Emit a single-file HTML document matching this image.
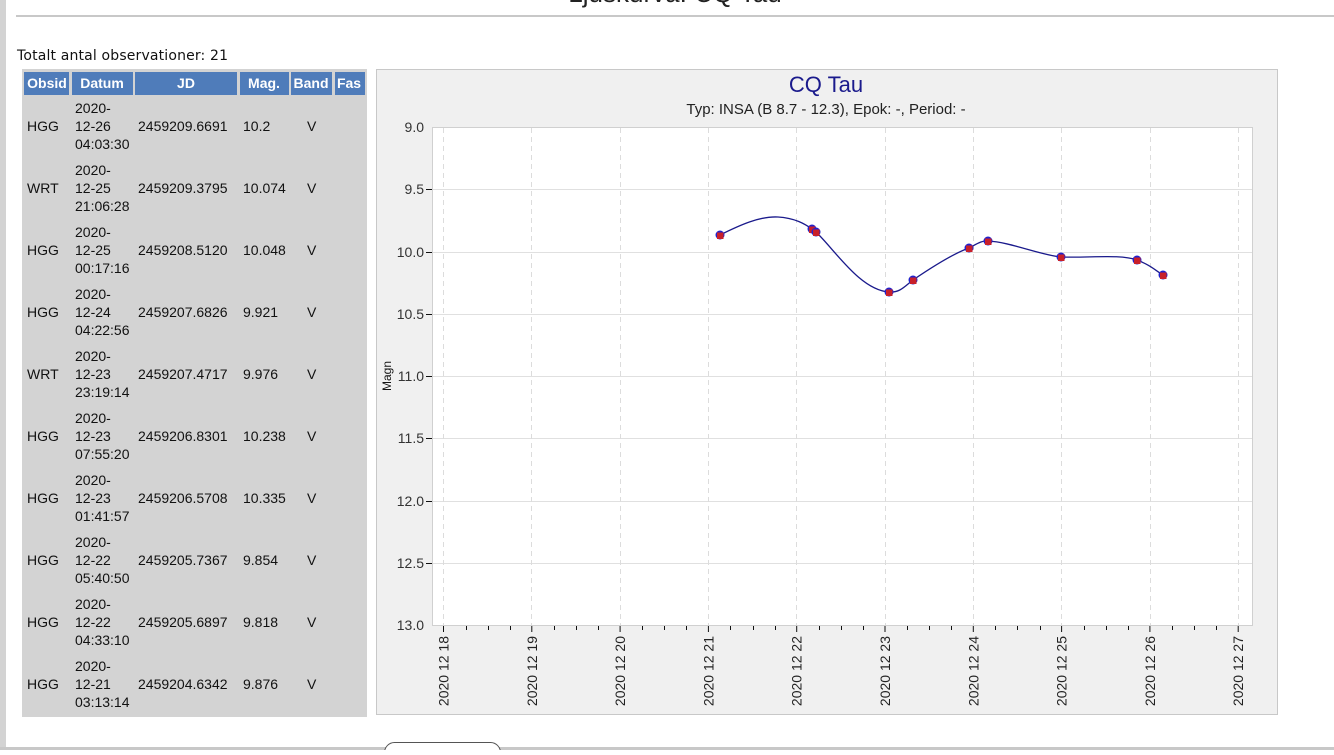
<!DOCTYPE html>
<html><head><meta charset="utf-8"><style>
body{margin:0;background:#fff;width:1334px;height:750px;overflow:hidden;font-family:"Liberation Sans",sans-serif}
</style></head><body>
<svg width="1334" height="750" xmlns="http://www.w3.org/2000/svg" font-family="Liberation Sans, sans-serif">
<rect x="0" y="0" width="6" height="750" fill="#d3d3d3"/>
<text x="675" y="2" font-size="26" text-anchor="middle" fill="#222">Ljuskurva: CQ Tau</text>
<rect x="16" y="15" width="1318" height="2" fill="#c8c8c8"/>
<text x="17" y="60" font-size="14" fill="#111" font-family="DejaVu Sans, sans-serif" textLength="211">Totalt antal observationer: 21</text>
<rect x="22" y="69" width="345" height="648" fill="#d3d3d3"/>
<g fill="#4f7cba">
<rect x="24" y="72" width="45" height="23"/><rect x="72" y="72" width="61" height="23"/><rect x="135" y="72" width="102" height="23"/><rect x="240" y="72" width="49" height="23"/><rect x="291" y="72" width="41" height="23"/><rect x="335" y="72" width="30" height="23"/>
</g>
<g fill="#fff" font-size="14" font-weight="bold" text-anchor="middle">
<text x="47" y="88">Obsid</text><text x="102" y="88">Datum</text><text x="186" y="88">JD</text><text x="264" y="88">Mag.</text><text x="311" y="88">Band</text><text x="349" y="88">Fas</text>
</g>
<g font-size="14" fill="#111">
<g transform="translate(0,0)"><text x="27" y="131">HGG</text><text x="75" y="113">2020-</text><text x="75" y="131">12-26</text><text x="75" y="149">04:03:30</text><text x="138" y="131">2459209.6691</text><text x="243" y="131">10.2</text><text x="307" y="131">V</text></g>
<g transform="translate(0,62)"><text x="27" y="131">WRT</text><text x="75" y="113">2020-</text><text x="75" y="131">12-25</text><text x="75" y="149">21:06:28</text><text x="138" y="131">2459209.3795</text><text x="243" y="131">10.074</text><text x="307" y="131">V</text></g>
<g transform="translate(0,124)"><text x="27" y="131">HGG</text><text x="75" y="113">2020-</text><text x="75" y="131">12-25</text><text x="75" y="149">00:17:16</text><text x="138" y="131">2459208.5120</text><text x="243" y="131">10.048</text><text x="307" y="131">V</text></g>
<g transform="translate(0,186)"><text x="27" y="131">HGG</text><text x="75" y="113">2020-</text><text x="75" y="131">12-24</text><text x="75" y="149">04:22:56</text><text x="138" y="131">2459207.6826</text><text x="243" y="131">9.921</text><text x="307" y="131">V</text></g>
<g transform="translate(0,248)"><text x="27" y="131">WRT</text><text x="75" y="113">2020-</text><text x="75" y="131">12-23</text><text x="75" y="149">23:19:14</text><text x="138" y="131">2459207.4717</text><text x="243" y="131">9.976</text><text x="307" y="131">V</text></g>
<g transform="translate(0,310)"><text x="27" y="131">HGG</text><text x="75" y="113">2020-</text><text x="75" y="131">12-23</text><text x="75" y="149">07:55:20</text><text x="138" y="131">2459206.8301</text><text x="243" y="131">10.238</text><text x="307" y="131">V</text></g>
<g transform="translate(0,372)"><text x="27" y="131">HGG</text><text x="75" y="113">2020-</text><text x="75" y="131">12-23</text><text x="75" y="149">01:41:57</text><text x="138" y="131">2459206.5708</text><text x="243" y="131">10.335</text><text x="307" y="131">V</text></g>
<g transform="translate(0,434)"><text x="27" y="131">HGG</text><text x="75" y="113">2020-</text><text x="75" y="131">12-22</text><text x="75" y="149">05:40:50</text><text x="138" y="131">2459205.7367</text><text x="243" y="131">9.854</text><text x="307" y="131">V</text></g>
<g transform="translate(0,496)"><text x="27" y="131">HGG</text><text x="75" y="113">2020-</text><text x="75" y="131">12-22</text><text x="75" y="149">04:33:10</text><text x="138" y="131">2459205.6897</text><text x="243" y="131">9.818</text><text x="307" y="131">V</text></g>
<g transform="translate(0,558)"><text x="27" y="131">HGG</text><text x="75" y="113">2020-</text><text x="75" y="131">12-21</text><text x="75" y="149">03:13:14</text><text x="138" y="131">2459204.6342</text><text x="243" y="131">9.876</text><text x="307" y="131">V</text></g>
</g>
<!-- chart -->
<rect x="376.5" y="69.5" width="901" height="645" fill="#f0f0f0" stroke="#c8c8c8"/>
<text x="826" y="92" font-size="22" fill="#1a1a8c" text-anchor="middle">CQ Tau</text>
<text x="826" y="114" font-size="15" fill="#222" text-anchor="middle">Typ: INSA (B 8.7 - 12.3), Epok: -, Period: -</text>
<rect x="432.5" y="127.5" width="820" height="498" fill="#fff" stroke="#d0d0d0"/>
<g stroke="#e0e0e0">
<line x1="433" x2="1252" y1="189.5" y2="189.5"/><line x1="433" x2="1252" y1="252.5" y2="252.5"/><line x1="433" x2="1252" y1="314.5" y2="314.5"/><line x1="433" x2="1252" y1="376.5" y2="376.5"/><line x1="433" x2="1252" y1="438.5" y2="438.5"/><line x1="433" x2="1252" y1="501.5" y2="501.5"/><line x1="433" x2="1252" y1="563.5" y2="563.5"/>
</g>
<g stroke="#dcdcdc" stroke-dasharray="5,4">
<line x1="443.5" x2="443.5" y1="128" y2="625"/><line x1="531.5" x2="531.5" y1="128" y2="625"/><line x1="620.5" x2="620.5" y1="128" y2="625"/><line x1="708.5" x2="708.5" y1="128" y2="625"/><line x1="796.5" x2="796.5" y1="128" y2="625"/><line x1="885.5" x2="885.5" y1="128" y2="625"/><line x1="973.5" x2="973.5" y1="128" y2="625"/><line x1="1061.5" x2="1061.5" y1="128" y2="625"/><line x1="1150.5" x2="1150.5" y1="128" y2="625"/><line x1="1238.5" x2="1238.5" y1="128" y2="625"/>
</g>
<g stroke="#111">
<line x1="426" x2="432" y1="189.5" y2="189.5"/><line x1="426" x2="432" y1="252.5" y2="252.5"/><line x1="426" x2="432" y1="314.5" y2="314.5"/><line x1="426" x2="432" y1="376.5" y2="376.5"/><line x1="426" x2="432" y1="438.5" y2="438.5"/><line x1="426" x2="432" y1="501.5" y2="501.5"/><line x1="426" x2="432" y1="563.5" y2="563.5"/>
</g>
<g font-size="14" fill="#333" text-anchor="end">
<text x="424" y="132">9.0</text><text x="424" y="194">9.5</text><text x="424" y="257">10.0</text><text x="424" y="319">10.5</text><text x="424" y="381">11.0</text><text x="424" y="443">11.5</text><text x="424" y="506">12.0</text><text x="424" y="568">12.5</text><text x="424" y="630">13.0</text>
</g>
<text transform="translate(391,376) rotate(-90)" font-size="12" fill="#111" text-anchor="middle">Magn</text>
<g id="ticks" stroke="#111"></g>
<g font-size="14" fill="#222" text-anchor="end" id="xl"></g>
<path d="M720,235 C740,225 760,216 778,217 C795,218 805,224 812,229 L816,232 C835,250 860,290 889,292 C900,293 905,286 913,280 C935,265 955,253 969,248 C975,245 982,240 988,241 C1010,242 1040,255 1061,257 C1090,258 1120,254 1137,260 C1150,265 1155,270 1163,275" fill="none" stroke="#1a1a8c" stroke-width="1.3"/>
<g id="pts"></g>
<rect x="0" y="747" width="1334" height="3" fill="#c8c8c8"/>
<rect x="384.5" y="742.5" width="116" height="20" rx="10" fill="#fff" stroke="#555"/>
</svg>
<script>
var ns="http://www.w3.org/2000/svg";
var t=document.getElementById("ticks"),xl=document.getElementById("xl"),p=document.getElementById("pts");
for(var d=0;d<10;d++){var x=443.5+88.3*d;
 var l=document.createElementNS(ns,"line");l.setAttribute("x1",x);l.setAttribute("x2",x);l.setAttribute("y1",626);l.setAttribute("y2",632);t.appendChild(l);
 var tx=document.createElementNS(ns,"text");tx.setAttribute("transform","translate("+(x+5)+",636) rotate(-90)");tx.textContent="2020 12 "+(18+d);xl.appendChild(tx);
 if(d<9)for(var m=1;m<4;m++){var xm=Math.round(x+88.3*m/4)+.5;var k=document.createElementNS(ns,"line");k.setAttribute("x1",xm);k.setAttribute("x2",xm);k.setAttribute("y1",626);k.setAttribute("y2",630);t.appendChild(k);}
}
[[720,235],[812,229],[816,232],[889,292],[913,280],[969,248],[988,241],[1061,257],[1137,260],[1163,275]].forEach(function(q){
 var c=document.createElementNS(ns,"circle");c.setAttribute("cx",q[0]);c.setAttribute("cy",q[1]);c.setAttribute("r",4.5);c.setAttribute("fill","#2222cc");p.appendChild(c);
 var r=document.createElementNS(ns,"rect");r.setAttribute("x",q[0]-3);r.setAttribute("y",q[1]-2.5);r.setAttribute("width",6.5);r.setAttribute("height",6.5);r.setAttribute("fill","#c8202a");p.appendChild(r);
});
</script>
</body></html>
